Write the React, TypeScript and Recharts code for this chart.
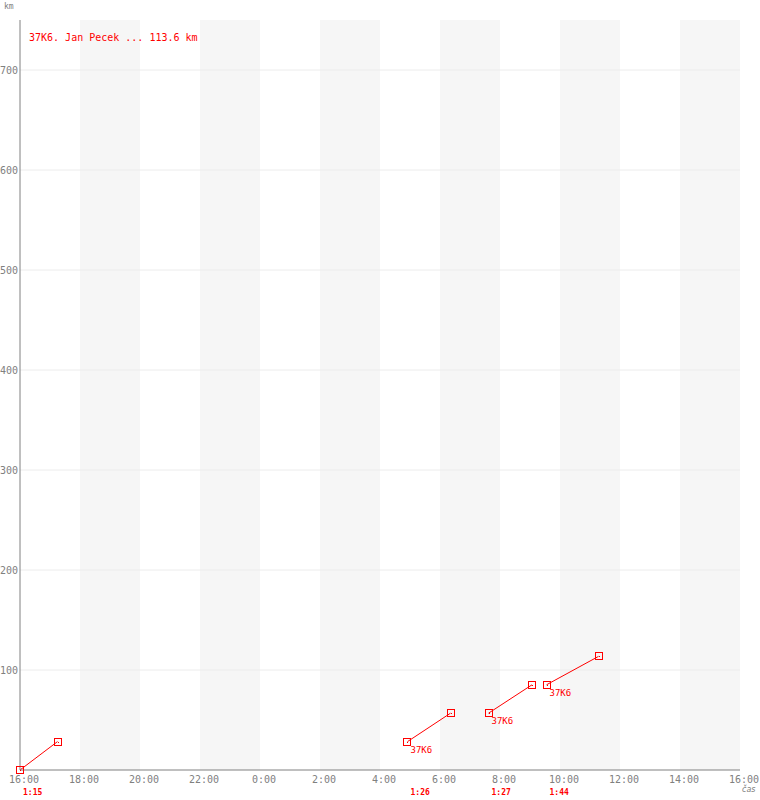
import React from "react";
import {
  ComposedChart,
  Line,
  XAxis,
  YAxis,
  ReferenceArea,
  ReferenceLine,
  ReferenceDot,
} from "recharts";

// flight legs of one pilot: start clock time, leg duration, cumulative km
const PILOT = "37K6. Jan Pecek";
const CALLSIGN = "37K6";
const TOTAL_KM = 113.6;
const LEG_START = ["16:00", "4:55", "7:37", "9:33"];
const LEG_TIME = ["1:15", "1:26", "1:27", "1:44"];
const LEG_KM = [0, 28.4, 56.8, 85.2, 113.6];

const X_TICKS = [0, 2, 4, 6, 8, 10, 12, 14, 16, 18, 20, 22, 24];
const Y_TICKS = [100, 200, 300, 400, 500, 600, 700];
const SHADED = [[2, 4], [6, 8], [10, 12], [14, 16], [18, 20], [22, 24]];

const RED = "#ff0000";
const GREY = "#808080";
const MONO = "'DejaVu Sans Mono', monospace";

// hours elapsed since 16:00
const toHours = (t: string) => {
  const [h, m] = t.split(":").map(Number);
  return (((h - 16 + 24) % 24) * 60 + m) / 60;
};

const legs = LEG_START.map((start, i) => {
  const h0 = toHours(start);
  const [dh, dm] = LEG_TIME[i].split(":").map(Number);
  return {
    h0,
    time: LEG_TIME[i],
    tagged: LEG_KM[i] > 0,
    points: [
      { h: h0, km: LEG_KM[i] },
      { h: h0 + dh + dm / 60, km: LEG_KM[i + 1] },
    ],
  };
});

const fmtHour = (h: number) => `${(16 + h) % 24}:00`;

const SquareDot = (props: any) => {
  const cx = Math.round(props.cx);
  const cy = Math.round(props.cy);
  return (
    <g shapeRendering="crispEdges">
      <rect x={cx - 3.5} y={cy - 3.5} width={7} height={7} fill="none" stroke={RED} />
      <rect x={cx - 0.5} y={cy - 0.5} width={1} height={1} fill={RED} />
    </g>
  );
};

const XTick = (props: any) => (
  <text x={props.x + 4} y={props.y + 13} textAnchor="middle" fill={GREY} fontSize={10} fontFamily={MONO}>
    {fmtHour(props.payload.value)}
  </text>
);

const YTick = (props: any) => (
  <text x={props.x} y={props.y + 4} textAnchor="end" fill={GREY} fontSize={10} fontFamily={MONO}>
    {props.payload.value}
  </text>
);

export default function App() {
  return (
    <div style={{ position: "absolute", left: 0, top: 0, width: 760, height: 800, background: "#fff" }}>
      <ComposedChart width={760} height={800} margin={{ top: 20, right: 20, bottom: 0, left: 0 }}>
        {SHADED.map(([a, b]) => (
          <ReferenceArea key={a} x1={a} x2={b} y1={0} y2={750} fill="#f6f6f6" fillOpacity={1} stroke="none" />
        ))}
        {Y_TICKS.map((v) => (
          <ReferenceLine key={v} y={v} stroke="#ececec" strokeWidth={1} />
        ))}
        <XAxis
          type="number"
          dataKey="h"
          domain={[0, 24]}
          ticks={X_TICKS}
          interval={0}
          height={30}
          tickSize={0}
          tickMargin={0}
          tickLine={false}
          axisLine={{ stroke: GREY }}
          tick={<XTick />}
          label={(p: any) => (
            <text
              x={p.viewBox.x + p.viewBox.width + 2}
              y={p.viewBox.y + 22}
              fill={GREY}
              fontSize={8}
              fontStyle="italic"
              fontFamily="'DejaVu Sans', sans-serif"
            >
              čas
            </text>
          )}
        />
        <YAxis
          type="number"
          domain={[0, 750]}
          ticks={Y_TICKS}
          width={20}
          tickSize={0}
          tickMargin={2}
          tickLine={false}
          axisLine={{ stroke: GREY }}
          tick={<YTick />}
          label={(p: any) => (
            <text x={4} y={p.viewBox.y - 11} fill={GREY} fontSize={8} fontFamily={MONO}>
              km
            </text>
          )}
        />
        {legs.map((leg, i) => (
          <Line
            key={i}
            data={leg.points}
            dataKey="km"
            type="linear"
            stroke={RED}
            strokeWidth={1}
            dot={<SquareDot />}
            activeDot={false}
            isAnimationActive={false}
            label={(p: any) =>
              p.index === 0 && leg.tagged ? (
                <text x={p.x + 3} y={p.y + 11} fill={RED} fontSize={9} fontFamily={MONO}>
                  {CALLSIGN}
                </text>
              ) : null
            }
          />
        ))}
        {legs.map((leg, i) => (
          <ReferenceDot
            key={`t${i}`}
            x={leg.h0}
            y={0}
            r={0}
            ifOverflow="visible"
            shape={(p: any) => (
              <text x={p.cx + 3} y={p.cy + 25} fill={RED} fontSize={8} fontWeight="bold" fontFamily={MONO}>
                {leg.time}
              </text>
            )}
          />
        ))}
      </ComposedChart>
      <div
        style={{
          position: "absolute",
          left: 29,
          top: 31,
          color: RED,
          fontFamily: MONO,
          fontSize: 10,
          lineHeight: "14px",
          whiteSpace: "pre",
        }}
      >
        {`${PILOT} ... ${TOTAL_KM} km`}
      </div>
    </div>
  );
}
